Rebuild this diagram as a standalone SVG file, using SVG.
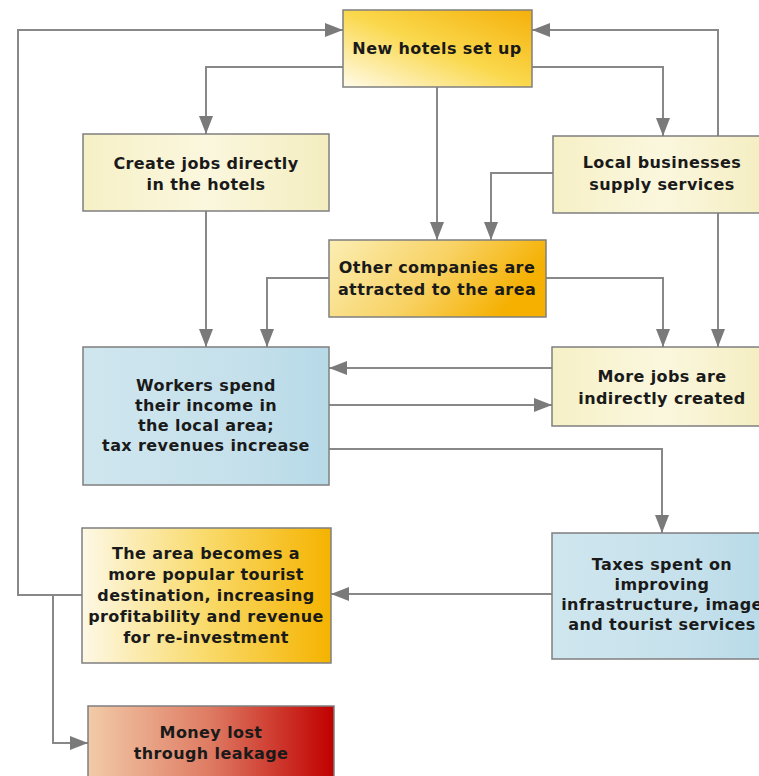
<svg xmlns="http://www.w3.org/2000/svg" width="759" height="776" viewBox="0 0 759 776">
<defs>
<linearGradient id="gHotel" x1="0" y1="1" x2="1" y2="0">
<stop offset="0" stop-color="#fffbea"/><stop offset="0.5" stop-color="#fad84c"/><stop offset="1" stop-color="#f5b00a"/>
</linearGradient>
<linearGradient id="gPale" x1="0" y1="0" x2="1" y2="0">
<stop offset="0" stop-color="#f6f0c6"/><stop offset="0.5" stop-color="#fbf7de"/><stop offset="1" stop-color="#f4edc0"/>
</linearGradient>
<linearGradient id="gOrange" x1="0" y1="0" x2="1" y2="0">
<stop offset="0" stop-color="#fdf8e6"/><stop offset="0.5" stop-color="#f9da6a"/><stop offset="1" stop-color="#f5b300"/>
</linearGradient>
<linearGradient id="gOther" x1="0" y1="0" x2="1" y2="0.3">
<stop offset="0" stop-color="#fbeeb4"/><stop offset="0.55" stop-color="#f8d264"/><stop offset="1" stop-color="#f5b000"/>
</linearGradient>
<linearGradient id="gBlue" x1="0" y1="0" x2="1" y2="0">
<stop offset="0" stop-color="#cfe6ee"/><stop offset="0.6" stop-color="#c6e1ec"/><stop offset="1" stop-color="#b7dae8"/>
</linearGradient>
<linearGradient id="gRed" x1="0" y1="0" x2="1" y2="0">
<stop offset="0" stop-color="#f2cba8"/><stop offset="0.5" stop-color="#de7a62"/><stop offset="1" stop-color="#c00000"/>
</linearGradient>
<marker id="arr" markerUnits="userSpaceOnUse" markerWidth="18" markerHeight="14" refX="18" refY="7" orient="auto">
<path d="M0,0 L18,7 L0,14 z" fill="#7a7a7a"/>
</marker>
</defs>
<style>
.box{stroke:#7f7f7f;stroke-width:1.5}
.t{font-family:"DejaVu Sans",Verdana,sans-serif;font-weight:bold;font-size:16px;letter-spacing:0.4px;fill:#1a1a1a;text-anchor:middle}
.c{fill:none;stroke:#888;stroke-width:2}
.a{marker-end:url(#arr)}
</style>
<rect width="759" height="776" fill="#fff"/>
<g id="connectors">
<path class="c a" d="M82,595 H18 V30 H343"/>
<path class="c a" d="M718,136 V30 H532"/>
<path class="c a" d="M718,213 V347"/>
<path class="c a" d="M343,67 H206 V134"/>
<path class="c a" d="M532,67 H663 V136"/>
<path class="c a" d="M437,87 V240"/>
<path class="c a" d="M553,173 H491 V240"/>
<path class="c a" d="M206,211 V347"/>
<path class="c a" d="M329,278 H267 V347"/>
<path class="c a" d="M546,278 H663 V347"/>
<path class="c a" d="M552,368 H329"/>
<path class="c a" d="M329,405 H552"/>
<path class="c a" d="M329,449 H662 V533"/>
<path class="c a" d="M552,594 H331"/>
<path class="c a" d="M53,595 V743 H88"/>
</g>
<g id="new-hotels">
<rect class="box" x="343" y="10" width="189" height="77" fill="url(#gHotel)"/>
<text class="t" x="437" y="54">New hotels set up</text>
</g>
<g id="create-jobs">
<rect class="box" x="83" y="134" width="246" height="77" fill="url(#gPale)"/>
<text class="t" x="206" y="169">Create jobs directly</text>
<text class="t" x="206" y="190">in the hotels</text>
</g>
<g id="local-businesses">
<rect class="box" x="553" y="136" width="218" height="77" fill="url(#gPale)"/>
<text class="t" x="662" y="168">Local businesses</text>
<text class="t" x="662" y="190">supply services</text>
</g>
<g id="other-companies">
<rect class="box" x="329" y="240" width="217" height="77" fill="url(#gOther)"/>
<text class="t" x="437" y="273">Other companies are</text>
<text class="t" x="437" y="295">attracted to the area</text>
</g>
<g id="workers">
<rect class="box" x="83" y="347" width="246" height="138" fill="url(#gBlue)"/>
<text class="t" x="206" y="391">Workers spend</text>
<text class="t" x="206" y="411">their income in</text>
<text class="t" x="206" y="431">the local area;</text>
<text class="t" x="206" y="451">tax revenues increase</text>
</g>
<g id="more-jobs">
<rect class="box" x="552" y="347" width="219" height="79" fill="url(#gPale)"/>
<text class="t" x="662" y="382">More jobs are</text>
<text class="t" x="662" y="404">indirectly created</text>
</g>
<g id="taxes">
<rect class="box" x="552" y="533" width="219" height="126" fill="url(#gBlue)"/>
<text class="t" x="662" y="570">Taxes spent on</text>
<text class="t" x="662" y="590">improving</text>
<text class="t" x="662" y="610">infrastructure, image</text>
<text class="t" x="662" y="630">and tourist services</text>
</g>
<g id="popular-destination">
<rect class="box" x="82" y="528" width="249" height="135" fill="url(#gOrange)"/>
<text class="t" x="206" y="559">The area becomes a</text>
<text class="t" x="206" y="580">more popular tourist</text>
<text class="t" x="206" y="601">destination, increasing</text>
<text class="t" x="206" y="622">profitability and revenue</text>
<text class="t" x="206" y="643">for re-investment</text>
</g>
<g id="money-lost">
<rect class="box" x="88" y="706" width="246" height="80" fill="url(#gRed)"/>
<text class="t" x="211" y="738">Money lost</text>
<text class="t" x="211" y="759">through leakage</text>
</g>
</svg>
